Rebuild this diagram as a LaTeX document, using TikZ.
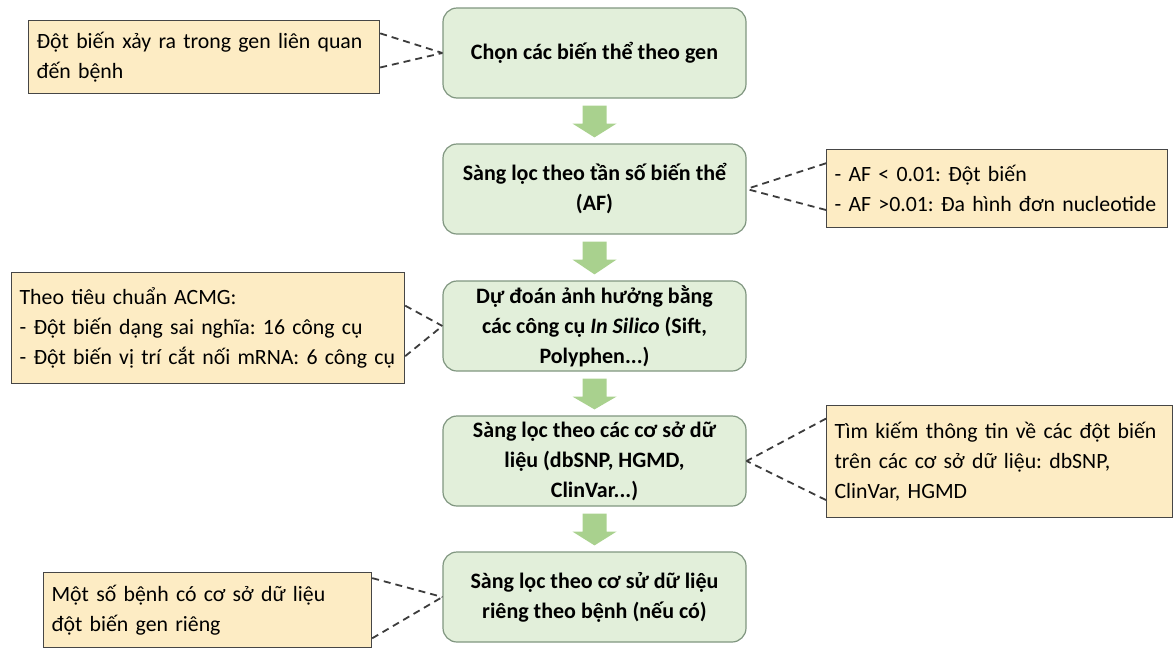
\documentclass[tikz,border=0pt]{standalone}
\usepackage{fontspec}
\setmainfont{Carlito}
\usepackage{tikz}
\usetikzlibrary{calc,positioning}

\definecolor{boxgreen}{RGB}{226,239,218}
\definecolor{edgegreen}{RGB}{128,150,128}
\definecolor{arrowgreen}{RGB}{169,209,142}
\definecolor{notefill}{RGB}{253,236,196}
\definecolor{noteedge}{RGB}{70,70,70}
\definecolor{dashgray}{RGB}{60,60,60}

\frenchspacing
\hyphenpenalty=10000

\begin{document}
\begin{tikzpicture}
[x=1pt,y=-1pt]

    \tikzstyle{stepbox}=[draw=edgegreen,fill=boxgreen,rounded corners=14pt,
                         line width=1.2pt,minimum width=303pt,minimum height=90pt,
                         inner ysep=1pt,align=center,
                         font=\fontsize{22}{30}\selectfont\bfseries]
    \tikzstyle{notebox}=[draw=noteedge,fill=notefill,line width=1.2pt,
                         anchor=north west,inner xsep=8pt,inner ysep=2pt,align=left,
                         font=\fontsize{21.8}{30}\selectfont]
    \tikzstyle{link}=[draw=dashgray,line width=1.8pt,dash pattern=on 7pt off 5pt]

    \useasboundingbox (0,0) rectangle (1175,654);

    % the five steps down the middle
    \node[stepbox] (b1) at (594.5,53) {Chọn các biến thể theo gen};
    \node[stepbox] (b2) at (594.5,189) {Sàng lọc theo tần số biến thể\\(AF)};
    \node[stepbox] (b3) at (594.5,326) {Dự đoán ảnh hưởng bằng\\các công cụ \textit{In Silico} (Sift,\\Polyphen...)};
    \node[stepbox] (b4) at (594.5,461) {Sàng lọc theo các cơ sở dữ\\liệu (dbSNP, HGMD,\\ClinVar...)};
    \node[stepbox] (b5) at (594.5,597) {Sàng lọc theo cơ sử dữ liệu\\riêng theo bệnh (nếu có)};

    % block arrows between the steps
    \foreach \a/\b in {b1/b2,b2/b3,b3/b4,b4/b5}
        \fill[arrowgreen] ($(\a.south)+(-12,7)$) -- ($(\a.south)+(12,7)$)
            -- ($(\a.south)+(12,25)$) -- ($(\a.south)+(22,25)$)
            -- ($(\b.north)+(0,-6)$) -- ($(\a.south)+(-22,25)$)
            -- ($(\a.south)+(-12,25)$) -- cycle;

    % notes at the sides
    \node[notebox,text width=335pt,minimum height=73pt] (l1) at (28,20)
        {Đột biến xảy ra trong gen liên quan\\đến bệnh};
    \node[notebox,text width=325pt,minimum height=78pt] (r2) at (826,149)
        {- AF < 0.01: Đột biến\\- AF >0.01: Đa hình đơn nucleotide};
    \node[notebox,text width=377pt,minimum height=111pt] (l3) at (11,272)
        {Theo tiêu chuẩn ACMG:\\- Đột biến dạng sai nghĩa: 16 công cụ\\- Đột biến vị trí cắt nối mRNA: 6 công cụ};
    \node[notebox,text width=330pt,minimum height=112pt] (r4) at (826,405)
        {Tìm kiếm thông tin về các đột biến\\trên các cơ sở dữ liệu: dbSNP,\\ClinVar, HGMD};
    \node[notebox,text width=312pt,minimum height=75pt] (l5) at (43,572)
        {Một số bệnh có cơ sở dữ liệu\\đột biến gen riêng};

    % dashed links
    \draw[link] ($(l1.north east)!0.18!(l1.south east)$) -- (b1.west);
    \draw[link] ($(l1.north east)!0.64!(l1.south east)$) -- (b1.west);
    \draw[link] ($(r2.north west)!0.18!(r2.south west)$) -- (b2.east);
    \draw[link] ($(r2.north west)!0.77!(r2.south west)$) -- (b2.east);
    \draw[link] ($(l3.north east)!0.30!(l3.south east)$) -- (b3.west);
    \draw[link] ($(l3.north east)!0.75!(l3.south east)$) -- (b3.west);
    \draw[link] ($(r4.north west)!0.12!(r4.south west)$) -- (b4.east);
    \draw[link] ($(r4.north west)!0.84!(r4.south west)$) -- (b4.east);
    \draw[link] ($(l5.north east)!0.08!(l5.south east)$) -- (b5.west);
    \draw[link] ($(l5.north east)!0.87!(l5.south east)$) -- (b5.west);

\end{tikzpicture}
\end{document}
